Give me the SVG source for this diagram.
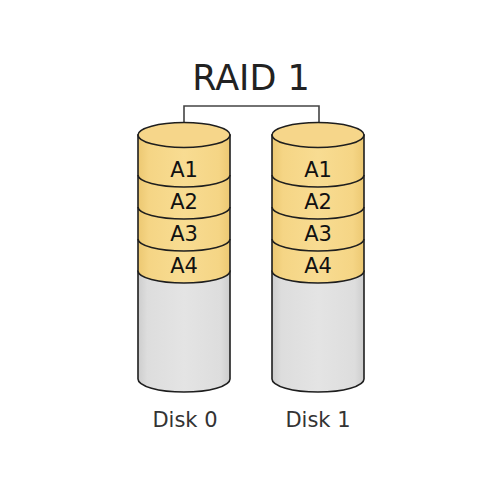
<svg xmlns="http://www.w3.org/2000/svg" width="500" height="500" viewBox="0 0 500 500">
<style>
.ol{stroke:#1e1e1e;stroke-width:1.6;}
.lbl{font-family:"DejaVu Sans",sans-serif;font-size:21px;fill:#111;text-anchor:middle;}
.dl{font-family:"DejaVu Sans",sans-serif;font-size:21px;fill:#333;text-anchor:middle;}
.conn{fill:none;stroke:#444;stroke-width:1.6;}
</style>
<defs>
<linearGradient id="gy" x1="0" x2="1" y1="0" y2="0">
<stop offset="0" stop-color="#ecc872"/><stop offset="0.12" stop-color="#f5d585"/><stop offset="0.5" stop-color="#f8dc92"/><stop offset="0.88" stop-color="#f5d585"/><stop offset="1" stop-color="#ecc872"/>
</linearGradient>
<linearGradient id="gg" x1="0" x2="1" y1="0" y2="0">
<stop offset="0" stop-color="#cdcdcd"/><stop offset="0.1" stop-color="#dddddd"/><stop offset="0.5" stop-color="#e4e4e4"/><stop offset="0.9" stop-color="#dddddd"/><stop offset="1" stop-color="#cdcdcd"/>
</linearGradient>
<g id="cyl">
<path d="M-46,271 V379 A46,13 0 0 0 46,379 V271 Z" fill="url(#gg)" class="ol"/>
<path d="M-46,135 V271 A46,12 0 0 0 46,271 V135 Z" fill="url(#gy)" class="ol"/>
<path d="M-46,175 A46,12 0 0 0 46,175" fill="none" class="ol"/>
<path d="M-46,207 A46,12 0 0 0 46,207" fill="none" class="ol"/>
<path d="M-46,239 A46,12 0 0 0 46,239" fill="none" class="ol"/>
<ellipse cx="0" cy="135" rx="46" ry="12.5" fill="#f6d68a" class="ol"/>
<text class="lbl" x="0" y="177">A1</text>
<text class="lbl" x="0" y="209">A2</text>
<text class="lbl" x="0" y="241">A3</text>
<text class="lbl" x="0" y="273">A4</text>
</g>
</defs>
<text x="251" y="90" font-family="DejaVu Sans, sans-serif" font-size="35" fill="#222" text-anchor="middle">RAID 1</text>
<g id="connectors">
<path class="conn" d="M184,136 V106 H319 V136"/>
</g>
<g id="disk0">
<use href="#cyl" x="184"/>
<text class="dl" x="185" y="427">Disk 0</text>
</g>
<g id="disk1">
<use href="#cyl" x="318"/>
<text class="dl" x="318" y="427">Disk 1</text>
</g>
</svg>
